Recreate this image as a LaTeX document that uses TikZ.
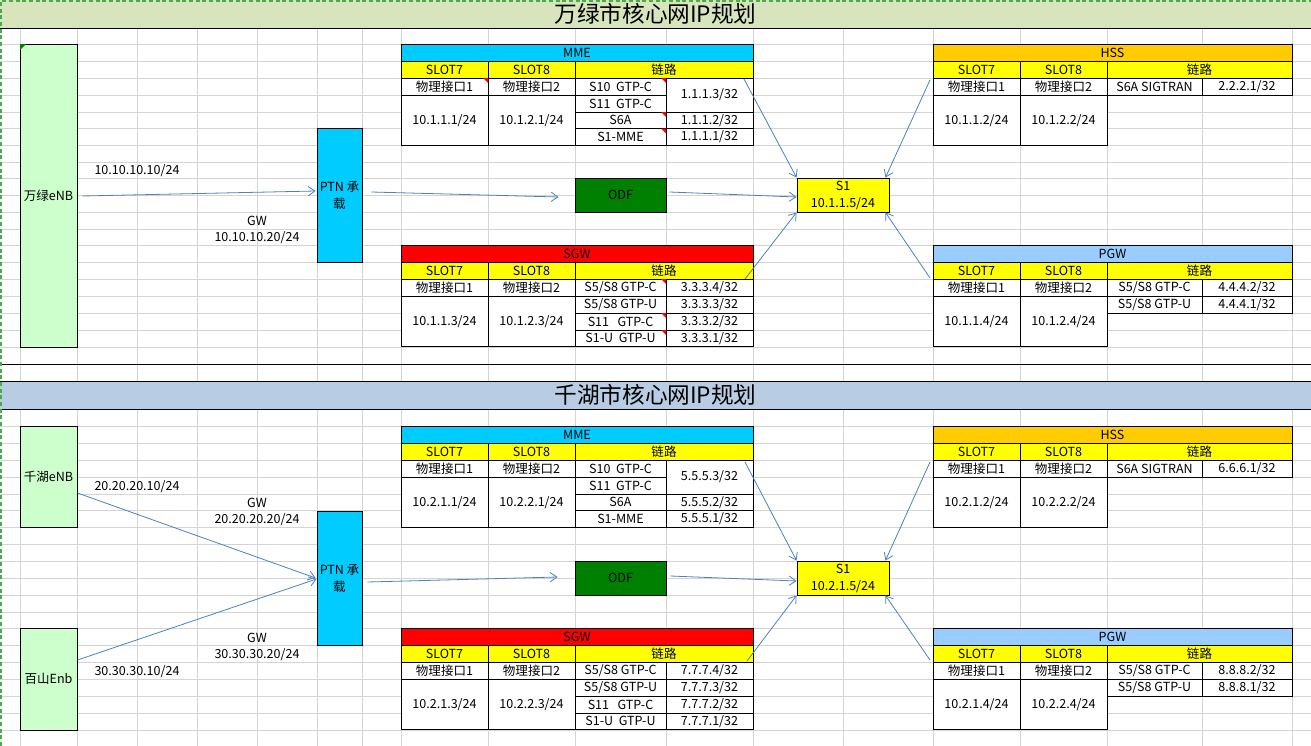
\documentclass[tikz,border=0pt]{standalone}
\usepackage{fontspec}
\setmainfont{Noto Sans CJK SC}
\usetikzlibrary{arrows.meta,calc}
\definecolor{gridgray}{RGB}{212,212,212}
\definecolor{titlegreen}{RGB}{216,228,188}
\definecolor{titleblue}{RGB}{184,204,228}
\definecolor{enbgreen}{RGB}{204,255,204}
\definecolor{cyanbox}{RGB}{0,204,255}
\definecolor{slotyellow}{RGB}{255,255,0}
\definecolor{hssorange}{RGB}{255,204,0}
\definecolor{pgwblue}{RGB}{153,204,255}
\definecolor{odfgreen}{RGB}{0,128,0}
\definecolor{arrowblue}{RGB}{79,129,189}
\definecolor{selgreen}{RGB}{76,170,76}
\definecolor{markred}{RGB}{255,0,0}
\tikzset{
  gridline/.style={draw=gridgray,line width=0.6pt},
  cellline/.style={draw=black,line width=0.7pt},
  celltext/.style={inner sep=0pt,font=\fontsize{9.4}{11}\selectfont},
  titletext/.style={inner sep=0pt,font=\fontsize{17}{20}\selectfont},
  shapebox/.style={draw=black,line width=0.7pt,inner sep=0pt,align=center,
    font=\fontsize{9.4}{12.75}\selectfont},
  arr/.style={draw=arrowblue,line width=0.6pt,-{Straight Barb[length=5pt,width=7pt]}},
  lbl/.style={inner sep=0pt,font=\fontsize{9.4}{11}\selectfont}
}
\newcommand\tcell[6]{%
  \draw[cellline,fill=#5] (#1,#2) rectangle (#3,#4);
  \node[celltext] at ({(#1+#3)/2},{(#2+#4)/2}) {#6};}
\newcommand\tabtop[7]{%
  \tcell{#1}{#5}{#4}{#5+17}{#6}{#7}
  \tcell{#1}{#5+17}{#2}{#5+34}{slotyellow}{SLOT7}
  \tcell{#2}{#5+17}{#3}{#5+34}{slotyellow}{SLOT8}
  \tcell{#3}{#5+17}{#4}{#5+34}{slotyellow}{链路}}
\newcommand\tableft[6]{%
  \tcell{#1}{#4+34}{#2}{#4+51}{white}{物理接口1}
  \tcell{#2}{#4+34}{#3}{#4+51}{white}{物理接口2}
  \tcell{#1}{#4+51}{#2}{#4+101.5}{white}{#5}
  \tcell{#2}{#4+51}{#3}{#4+101.5}{white}{#6}}
\newcommand\lrow[7]{%
  \tcell{#1}{#4}{#2}{#5}{white}{#6}
  \tcell{#2}{#4}{#3}{#5}{white}{#7}}
\newcommand\redmark[2]{\fill[markred] (#1-5,#2) -- (#1,#2) -- (#1,#2+5) -- cycle;}
\begin{document}
\begin{tikzpicture}[x=0.75pt,y=-0.75pt]
\useasboundingbox (0,0) rectangle (1311,746);
\fill[white] (0,0) rectangle (1311,746);
% grid
\foreach \gx in {20,77,137,197,257,317,362,401,488,575,666,753,843,933,1020,1107,1202,1292}
  \draw[gridline] (\gx,0) -- (\gx,746);
\foreach \gy in {44,61,78,95,112,128.5,145.5,162,178,195,212,229,245,262,279,296,313,330,347,364,
                 426,443,460,477,494,510.5,527,544,561,578,595,612,628,645,662,679,696,713,730}
  \draw[gridline] (0,\gy) -- (1311,\gy);
% titles
\fill[titlegreen] (0,0) rectangle (1311,28);
\draw[cellline] (0,28) -- (1311,28);
\node[titletext] (title1) at (655.5,14) {万绿市核心网IP规划};
\draw[cellline] (0,364) -- (1311,364);
\fill[titleblue] (0,381) rectangle (1311,409);
\draw[cellline] (0,381) -- (1311,381);
\draw[cellline] (0,409) -- (1311,409);
\node[titletext] (title2) at (655.5,395) {千湖市核心网IP规划};
% selection border
\draw[selgreen,line width=1.5pt,dash pattern=on 3pt off 2pt] (0.8,746) -- (0.8,0.8) -- (1311,0.8);

% ===== Section 1 tables =====
% MME
\tabtop{401}{488}{575}{753}{44}{cyanbox}{MME}
\tableft{401}{488}{575}{44}{10.1.1.1/24}{10.1.2.1/24}
\tcell{575}{78}{666}{95}{white}{S10~~GTP-C}
\tcell{575}{95}{666}{112}{white}{S11~~GTP-C}
\tcell{666}{78}{753}{112}{white}{1.1.1.3/32}
\lrow{575}{666}{753}{112}{128.5}{S6A}{1.1.1.2/32}
\lrow{575}{666}{753}{128.5}{145.5}{S1-MME}{1.1.1.1/32}
\redmark{488}{78}\redmark{666}{78}\redmark{666}{112}\redmark{666}{128.5}
% SGW
\tabtop{401}{488}{575}{753}{245}{markred}{SGW}
\tableft{401}{488}{575}{245}{10.1.1.3/24}{10.1.2.3/24}
\lrow{575}{666}{753}{279}{296}{S5/S8 GTP-C}{3.3.3.4/32}
\lrow{575}{666}{753}{296}{313}{S5/S8~GTP-U}{3.3.3.3/32}
\lrow{575}{666}{753}{313}{330}{S11~~~GTP-C}{3.3.3.2/32}
\lrow{575}{666}{753}{330}{346.5}{S1-U~~GTP-U}{3.3.3.1/32}
\redmark{666}{279}\redmark{666}{313}\redmark{666}{330}
% HSS
\tabtop{933}{1020}{1107}{1292}{44}{hssorange}{HSS}
\tableft{933}{1020}{1107}{44}{10.1.1.2/24}{10.1.2.2/24}
\lrow{1107}{1202}{1292}{78}{95}{S6A SIGTRAN}{2.2.2.1/32}
% PGW
\tabtop{933}{1020}{1107}{1292}{245}{pgwblue}{PGW}
\tableft{933}{1020}{1107}{245}{10.1.1.4/24}{10.1.2.4/24}
\lrow{1107}{1202}{1292}{279}{296}{S5/S8 GTP-C}{4.4.4.2/32}
\lrow{1107}{1202}{1292}{296}{313}{S5/S8 GTP-U}{4.4.4.1/32}

% ===== Section 2 tables =====
\tabtop{401}{488}{575}{753}{426}{cyanbox}{MME}
\tableft{401}{488}{575}{426}{10.2.1.1/24}{10.2.2.1/24}
\tcell{575}{460}{666}{477}{white}{S10~~GTP-C}
\tcell{575}{477}{666}{494}{white}{S11~~GTP-C}
\tcell{666}{460}{753}{494}{white}{5.5.5.3/32}
\lrow{575}{666}{753}{494}{510.5}{S6A}{5.5.5.2/32}
\lrow{575}{666}{753}{510.5}{527.5}{S1-MME}{5.5.5.1/32}
\tabtop{401}{488}{575}{753}{628}{markred}{SGW}
\tableft{401}{488}{575}{628}{10.2.1.3/24}{10.2.2.3/24}
\lrow{575}{666}{753}{662}{679}{S5/S8 GTP-C}{7.7.7.4/32}
\lrow{575}{666}{753}{679}{696}{S5/S8~GTP-U}{7.7.7.3/32}
\lrow{575}{666}{753}{696}{713}{S11~~~GTP-C}{7.7.7.2/32}
\lrow{575}{666}{753}{713}{729.5}{S1-U~~GTP-U}{7.7.7.1/32}
\tabtop{933}{1020}{1107}{1292}{426}{hssorange}{HSS}
\tableft{933}{1020}{1107}{426}{10.2.1.2/24}{10.2.2.2/24}
\lrow{1107}{1202}{1292}{460}{477}{S6A SIGTRAN}{6.6.6.1/32}
\tabtop{933}{1020}{1107}{1292}{628}{pgwblue}{PGW}
\tableft{933}{1020}{1107}{628}{10.2.1.4/24}{10.2.2.4/24}
\lrow{1107}{1202}{1292}{662}{679}{S5/S8 GTP-C}{8.8.8.2/32}
\lrow{1107}{1202}{1292}{679}{696}{S5/S8 GTP-U}{8.8.8.1/32}

% ===== Shapes =====
\node[shapebox,fill=enbgreen,minimum width=57*0.75pt,minimum height=303*0.75pt] (enb1) at (48.5,195.5) {万绿eNB};
\fill[odfgreen] (20,44) -- (26,44) -- (20,50) -- cycle;
\node[shapebox,fill=cyanbox,minimum width=45*0.75pt,minimum height=134*0.75pt] (ptn1) at (339.5,195) {PTN 承\\载};
\node[shapebox,fill=odfgreen,minimum width=91*0.75pt,minimum height=34*0.75pt] (odf1) at (620.5,195) {ODF};
\node[shapebox,fill=slotyellow,minimum width=92*0.75pt,minimum height=34*0.75pt] (s1a) at (843,195) {S1\\10.1.1.5/24};

\node[shapebox,fill=enbgreen,minimum width=57*0.75pt,minimum height=101*0.75pt] (enb2) at (48.5,476.5) {千湖eNB};
\node[shapebox,fill=enbgreen,minimum width=57*0.75pt,minimum height=102*0.75pt] (enb3) at (48.5,679) {百山Enb};
\node[shapebox,fill=cyanbox,minimum width=45*0.75pt,minimum height=134*0.75pt] (ptn2) at (339.5,578) {PTN 承\\载};
\node[shapebox,fill=odfgreen,minimum width=91*0.75pt,minimum height=34*0.75pt] (odf2) at (620.5,578) {ODF};
\node[shapebox,fill=slotyellow,minimum width=92*0.75pt,minimum height=34*0.75pt] (s1b) at (843,578) {S1\\10.2.1.5/24};

% labels
\node[lbl] (l1) at (137,171) {10.10.10.10/24};
\node[lbl] (l2) at (257,221) {GW};
\node[lbl] (l3) at (257,238) {10.10.10.20/24};
\node[lbl] (l4) at (137,487) {20.20.20.10/24};
\node[lbl] (l5) at (257,503) {GW};
\node[lbl] (l6) at (257,520) {20.20.20.20/24};
\node[lbl] (l7) at (257,638) {GW};
\node[lbl] (l8) at (257,655) {30.30.30.20/24};
\node[lbl] (l9) at (137,672) {30.30.30.10/24};

% free ends
\coordinate (mmeout1) at (744,79);
\coordinate (hssout1) at (930,80);
\coordinate (sgwout1) at (745,279);
\coordinate (pgwout1) at (930,278);
\coordinate (mmeout2) at (745,462);
\coordinate (hssout2) at (930,462);
\coordinate (sgwout2) at (747,661);
\coordinate (pgwout2) at (930,660);

% connectors section 1
\draw[arr] ($(enb1.east)+(5,0.5)$) -- ($(ptn1.west)+(-1,-4)$);
\draw[arr] ($(ptn1.east)+(9,-3)$) -- ($(odf1.west)+(-16,2)$);
\draw[arr] ($(odf1.east)+(3,-3)$) -- ($(s1a.west)+(0,2)$);
\draw[arr] (mmeout1) -- (s1a.north west);
\draw[arr] (hssout1) -- ($(s1a.north east)+(-4,0)$);
\draw[arr] (sgwout1) -- (s1a.south west);
\draw[arr] (pgwout1) -- ($(s1a.south east)+(-4,0)$);
% connectors section 2
\draw[arr] ($(enb2.east)+(0,16.5)$) -- ($(ptn2.west)+(-1,0)$);
\draw[arr] ($(enb3.east)+(0,-19)$) -- ($(ptn2.west)+(0,1)$);
\draw[arr] ($(ptn2.east)+(5,4)$) -- ($(odf2.west)+(-17,-1)$);
\draw[arr] ($(odf2.east)+(4,-2)$) -- ($(s1b.west)+(0,3)$);
\draw[arr] (mmeout2) -- (s1b.north west);
\draw[arr] (hssout2) -- ($(s1b.north east)+(-4,0)$);
\draw[arr] (sgwout2) -- (s1b.south west);
\draw[arr] (pgwout2) -- ($(s1b.south east)+(-4,0)$);
\end{tikzpicture}
\end{document}
